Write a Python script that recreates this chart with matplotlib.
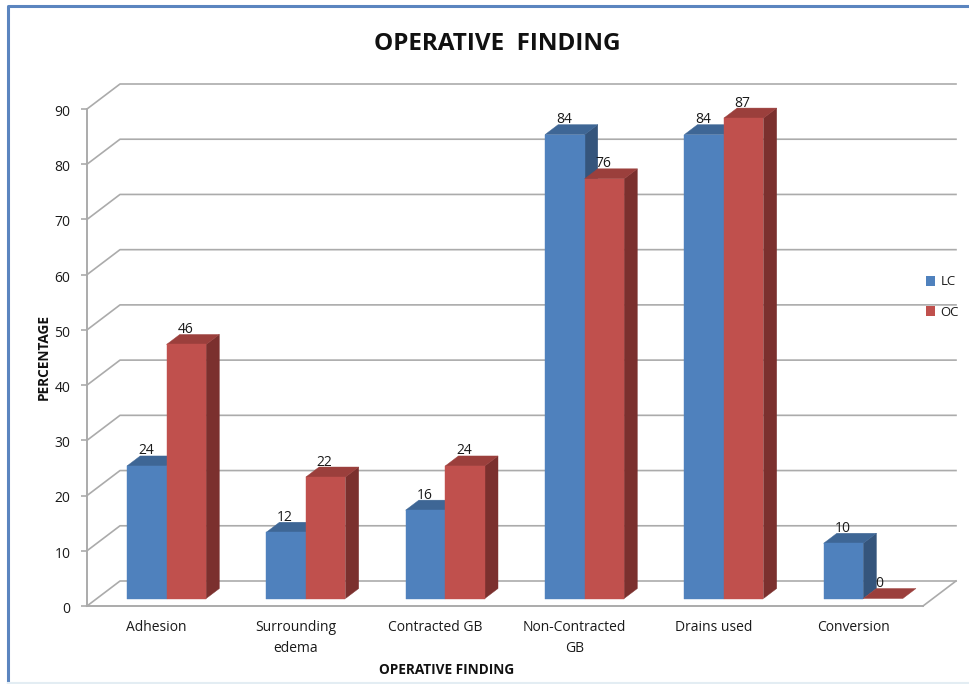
import matplotlib
matplotlib.use('Agg')
import matplotlib.pyplot as plt
from matplotlib.patches import Polygon, Patch
from matplotlib.transforms import ScaledTranslation
import numpy as np

categories = ['Adhesion', 'Surrounding\nedema', 'Contracted GB', 'Non-Contracted\nGB', 'Drains used', 'Conversion']
lc = [24, 12, 16, 84, 84, 10]
oc = [46, 22, 24, 76, 87, 0]
yticks = [0, 10, 20, 30, 40, 50, 60, 70, 80, 90]

plt.rcParams['font.family'] = ['Open Sans', 'DejaVu Sans']

W, H = 970, 684
fig = plt.figure(figsize=(W/100, H/100), dpi=100)
ax = fig.add_axes([87/W, (H-606)/H, 836/W, 497/H])
ax.set_xlim(0, 6)
ax.set_ylim(0, 90)

# oblique projection: depth 0 is the front floor edge, depth 1 the back wall
DX = 33/(836/6)
DY = 25/(497/90)
BAR_W = 0.284
D0, D1 = 0.30, 0.70
GRID = '#ababab'

def proj(x, v, d):
    return (x + d*DX, v + d*DY)

def box(x, v, front, top, side):
    w = BAR_W
    if v > 0:
        ax.add_patch(Polygon([proj(x+w, 0, D0), proj(x+w, 0, D1), proj(x+w, v, D1), proj(x+w, v, D0)],
                             fc=side, ec=side, lw=0.3, clip_on=False, zorder=3))
    ax.add_patch(Polygon([proj(x, v, D0), proj(x+w, v, D0), proj(x+w, v, D1), proj(x, v, D1)],
                         fc=top, ec=top, lw=0.3, clip_on=False, zorder=3))
    if v > 0:
        ax.add_patch(Polygon([proj(x, 0, D0), proj(x+w, 0, D0), proj(x+w, v, D0), proj(x, v, D0)],
                             fc=front, ec=front, lw=0.3, clip_on=False, zorder=3))

# gridlines on the side and back walls
for t in yticks:
    xs, ys = zip(proj(0, t, 0), proj(0, t, 1), proj(6, t, 1))
    ax.plot(xs, ys, color=GRID, lw=1.2, clip_on=False, zorder=1)
xs, ys = zip(proj(6, 0, 1), proj(6, 0, 0))
ax.plot(xs, ys, color=GRID, lw=1.2, clip_on=False, zorder=1)

for i in range(len(categories)):
    left = i + 0.5 - BAR_W
    box(left, lc[i], '#4f81bd', '#3e6695', '#35557c')
    box(left + BAR_W, oc[i], '#c0504d', '#9b3f3c', '#7b302e')

    x_lc, y_lc = proj(left + BAR_W/2, lc[i], D0)
    ax.annotate(str(lc[i]), (x_lc, y_lc), xytext=(-1, 15), textcoords='offset pixels',
                ha='center', va='center', fontsize=10, color='#1a1a1a', zorder=5, annotation_clip=False)
    x_oc, y_oc = proj(left + 1.5*BAR_W, oc[i], D0)
    # the zero label sits a little left of its flat bar
    shift = -4 if oc[i] == 0 else -1
    ax.annotate(str(oc[i]), (x_oc, y_oc), xytext=(shift, 15), textcoords='offset pixels',
                ha='center', va='center', fontsize=10, color='#1a1a1a', zorder=5, annotation_clip=False)

ax.set_xticks(np.arange(6) + 0.5, categories)
ax.set_yticks(yticks)
ax.tick_params(axis='x', length=0, pad=10, labelsize=10, labelcolor='#1a1a1a')
ax.tick_params(axis='y', length=4, width=1.2, color=GRID, pad=8, labelsize=10, labelcolor='#1a1a1a')
for lbl in ax.get_xticklabels():
    lbl.set_linespacing(1.6)
down = ScaledTranslation(0, -1/72, fig.dpi_scale_trans)
for lbl in ax.get_yticklabels():
    lbl.set_transform(lbl.get_transform() + down)
for s in ['top', 'right']:
    ax.spines[s].set_visible(False)
for s in ['left', 'bottom']:
    ax.spines[s].set_color(GRID)
    ax.spines[s].set_linewidth(1.4)
ax.patch.set_alpha(0)

fig.text(497/W, 1-44/H, 'OPERATIVE  FINDING', ha='center', va='center', fontsize=17.5, fontweight='bold', color='#111111')
fig.text(44/W, 1-357/H, 'PERCENTAGE', rotation=90, ha='center', va='center', fontsize=9.8, fontweight='bold', color='#111111')
fig.text(447/W, 1-670/H, 'OPERATIVE FINDING', ha='center', va='center', fontsize=9.8, fontweight='bold', color='#111111')

handles = [Patch(fc='#4f81bd', label='LC'), Patch(fc='#c0504d', label='OC')]
fig.legend(handles=handles, loc='center left', bbox_to_anchor=(919/W, 1-297/H), frameon=False,
           fontsize=9.5, handlelength=0.72, handleheight=0.72, handletextpad=0.4,
           labelspacing=1.3, borderpad=0, labelcolor='#1a1a1a')

# outer chart frame
fig.add_artist(plt.Line2D([8.5/W, 8.5/W, 1], [1-682/H, 1-6/H, 1-6/H], color='#5b85bf', lw=2.2))
fig.add_artist(plt.Line2D([8/W, 1], [1-682.5/H, 1-682.5/H], color='#e3edf3', lw=1.5))

fig.savefig('out.png', dpi=100)
